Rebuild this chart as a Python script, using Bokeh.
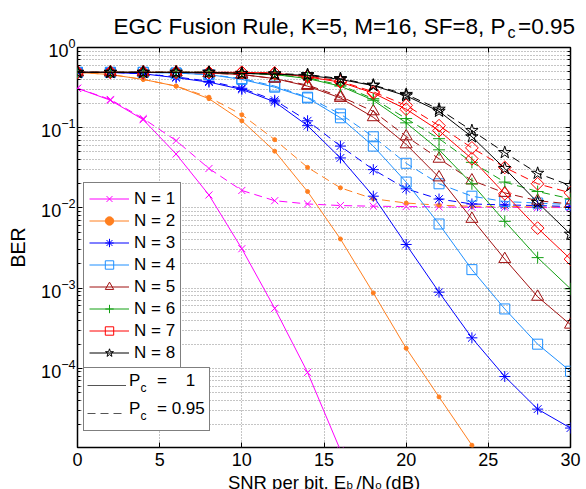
import math
from bokeh.plotting import figure
from bokeh.models import Range1d, LinearAxis, LogAxis, FixedTicker, Label, Legend, LegendItem
from bokeh.embed import file_html
from bokeh.resources import INLINE

# ---------------- data ----------------
snr_db = [0, 2, 4, 6, 8, 10, 12, 14, 16, 18, 20, 22, 24, 26, 28, 30]

ber_n1_pc1 = [0.31, 0.22, 0.126, 0.047, 0.0145, 0.0031, 5.6e-4, 8.9e-5, 9.5e-6]
ber_n1_pc095 = [0.31, 0.225, 0.13, 0.069, 0.031, 0.0165, 0.0123, 0.0112, 0.0107, 0.0105,
                0.0104, 0.0103, 0.0102, 0.0102, 0.0101, 0.0101]
ber_n2_pc1 = [0.49, 0.46, 0.40, 0.33, 0.23, 0.122, 0.051, 0.016, 0.0041, 8.7e-4, 1.78e-4,
              4.4e-5, 1.1e-5, 1.5e-6]
ber_n2_pc095 = [0.49, 0.46, 0.40, 0.33, 0.24, 0.145, 0.071, 0.032, 0.0178, 0.013, 0.0115,
                0.0108, 0.0105, 0.0104, 0.0103, 0.0103]
ber_n3_pc1 = [0.49, 0.49, 0.47, 0.42, 0.37, 0.30, 0.21, 0.106, 0.042, 0.014, 0.0035,
              8.9e-4, 2.4e-4, 7.9e-5, 3.1e-5, 1.8e-5]
ber_n3_pc095 = [0.49, 0.49, 0.47, 0.43, 0.38, 0.31, 0.22, 0.122, 0.059, 0.030, 0.0173,
                0.0129, 0.0112, 0.0109, 0.0107, 0.0104]
ber_n4_pc1 = [0.49, 0.49, 0.49, 0.48, 0.46, 0.40, 0.32, 0.235, 0.133, 0.059, 0.021,
              0.0063, 0.0017, 5.5e-4, 2.0e-4, 9.2e-5]
ber_n4_pc095 = [0.49, 0.49, 0.49, 0.48, 0.46, 0.41, 0.33, 0.24, 0.148, 0.077, 0.036,
                0.020, 0.014, 0.012, 0.0115, 0.011]
ber_n5_pc1 = [0.49, 0.49, 0.49, 0.49, 0.48, 0.46, 0.41, 0.33, 0.235, 0.135, 0.062,
              0.024, 0.0073, 0.0023, 7.8e-4, 3.5e-4]
ber_n5_pc095 = [0.49, 0.49, 0.49, 0.49, 0.48, 0.46, 0.41, 0.34, 0.245, 0.16, 0.078,
                0.041, 0.022, 0.0154, 0.0123, 0.0112]
ber_n6_pc1 = [0.49, 0.49, 0.49, 0.49, 0.49, 0.48, 0.46, 0.41, 0.33, 0.22, 0.115,
              0.053, 0.020, 0.0068, 0.0024, 9.8e-4]
ber_n6_pc095 = [0.49, 0.49, 0.49, 0.49, 0.49, 0.48, 0.46, 0.42, 0.34, 0.23, 0.13,
                0.073, 0.037, 0.021, 0.016, 0.013]
ber_n7_pc1 = [0.49, 0.49, 0.49, 0.49, 0.49, 0.49, 0.48, 0.43, 0.37, 0.27, 0.17,
              0.092, 0.041, 0.015, 0.0056, 0.0023]
ber_n7_pc095 = [0.49, 0.49, 0.49, 0.49, 0.49, 0.49, 0.48, 0.44, 0.38, 0.28, 0.19,
                0.106, 0.056, 0.032, 0.020, 0.0154]
ber_n8_pc1 = [0.49, 0.49, 0.49, 0.49, 0.49, 0.475, 0.465, 0.45, 0.40, 0.335, 0.25,
              0.16, 0.077, 0.031, 0.0117, 0.0047]
ber_n8_pc095 = [0.49, 0.49, 0.49, 0.49, 0.49, 0.475, 0.47, 0.46, 0.41, 0.34, 0.26,
                0.17, 0.092, 0.049, 0.027, 0.019]

NB = "\u00a0"
series_labels = ["N = 1", "N = 2", "N = 3", "N = 4", "N = 5", "N = 6", "N = 7", "N = 8"]
pc_symbols = ["P", "P"]
pc_subscripts = ["c", "c"]
pc_values = ["=" + NB * 4 + "1", "=" + NB + "0.95"]
title_text = "EGC Fusion Rule, K=5, M=16, SF=8, P" + NB * 2 + "=0.95"
xlabel_text = "SNR per bit, E" + NB * 2 + "/N" + NB * 2 + "(dB)"
xlabel_subs = "b" + NB * 7 + "o"
x_ticks = [0, 5, 10, 15, 20, 25, 30]
y_major = [1e-5, 1e-4, 1e-3, 1e-2, 1e-1, 1.0]

solid_sets = [ber_n1_pc1, ber_n2_pc1, ber_n3_pc1, ber_n4_pc1,
              ber_n5_pc1, ber_n6_pc1, ber_n7_pc1, ber_n8_pc1]
dashed_sets = [ber_n1_pc095, ber_n2_pc095, ber_n3_pc095, ber_n4_pc095,
               ber_n5_pc095, ber_n6_pc095, ber_n7_pc095, ber_n8_pc095]

# ---------------- styles ----------------
FONT = "Liberation Sans"
styles = [
    dict(color="#FF00FF", marker="x", size=10, angle=0.0, filled=False),
    dict(color="#FF7F1F", marker="circle", size=4, angle=0.0, filled=True),
    dict(color="#0000FF", marker="asterisk", size=11, angle=0.0, filled=False),
    dict(color="#1E8FFF", marker="square", size=10, angle=0.0, filled=False),
    dict(color="#A01010", marker="triangle", size=12, angle=0.0, filled=False),
    dict(color="#12A012", marker="cross", size=12, angle=0.0, filled=False),
    dict(color="#FF0000", marker="square", size=9, angle=math.pi / 4, filled=False),
    dict(color="#000000", marker="star", size=13, angle=0.0, filled=False),
]
DASH = "8 5"
NAN = float("nan")

W, H = 586, 489
p = figure(width=W, height=H, y_axis_type="log",
           x_range=Range1d(0, 30), y_range=Range1d(1.03e-5, 1),
           output_backend="svg", toolbar_location=None,
           min_border_left=77, min_border_right=16, min_border_top=47, min_border_bottom=42)
p.title = None
p.background_fill_color = "white"
p.border_fill_color = "white"
p.outline_line_color = "black"
p.outline_line_width = 1.5

y_minor = [m * 10.0 ** e for e in range(-5, 0) for m in range(2, 10)]


def style_axis(ax, ticker, show_labels, minor=False, standoff=5):
    ax.ticker = ticker
    ax.axis_line_color = None
    ax.major_tick_in = 5
    ax.major_tick_out = 0
    ax.major_tick_line_color = "black"
    ax.minor_tick_in = 3 if minor else 0
    ax.minor_tick_out = 0
    ax.minor_tick_line_color = "black" if minor else None
    if show_labels:
        ax.major_label_text_font = FONT
        ax.major_label_text_font_size = "18px"
        ax.major_label_text_color = "black"
        ax.major_label_standoff = standoff
    else:
        ax.major_label_text_font_size = "0px"
        ax.major_label_text_color = None
        ax.major_label_standoff = 0


style_axis(p.xaxis[0], FixedTicker(ticks=x_ticks), True, standoff=5)
style_axis(p.yaxis[0], FixedTicker(ticks=y_major, minor_ticks=y_minor), True, minor=True, standoff=2)
p.yaxis[0].axis_label = "BER"
p.yaxis[0].axis_label_text_font = FONT
p.yaxis[0].axis_label_text_font_size = "19.5px"
p.yaxis[0].axis_label_text_font_style = "normal"
p.yaxis[0].axis_label_text_color = "black"
p.yaxis[0].axis_label_standoff = 9

top_ax = LinearAxis()
style_axis(top_ax, FixedTicker(ticks=x_ticks), False)
p.add_layout(top_ax, "above")
right_ax = LogAxis()
style_axis(right_ax, FixedTicker(ticks=y_major, minor_ticks=y_minor), False, minor=True)
p.add_layout(right_ax, "right")

GRID = "#8a8a8a"
p.xgrid.ticker = FixedTicker(ticks=x_ticks)
p.xgrid.grid_line_color = GRID
p.xgrid.grid_line_dash = "1 2"
p.ygrid.ticker = FixedTicker(ticks=y_major, minor_ticks=y_minor)
p.ygrid.grid_line_color = GRID
p.ygrid.grid_line_dash = "1 2"
p.ygrid.minor_grid_line_color = GRID
p.ygrid.minor_grid_line_dash = "1 2"

legend_items = []
for i in range(8):
    st = styles[i]
    fill = st["color"] if st["filled"] else None
    rs = []
    for vals, dash in ((solid_sets[i], "solid"), (dashed_sets[i], DASH)):
        xs = snr_db[:len(vals)]
        lr = p.line(xs, vals, line_color=st["color"], line_width=1, line_dash=dash)
        sr = p.scatter(xs, vals, marker=st["marker"], size=st["size"], angle=st["angle"],
                       line_color=st["color"], fill_color=fill, line_width=1)
        rs.append((lr, sr))
    legend_items.append(LegendItem(label=series_labels[i], renderers=[rs[0][0], rs[0][1]]))

leg1 = Legend(items=legend_items, location=(6, 78), orientation="vertical",
              label_text_font=FONT, label_text_font_size="17px", label_text_color="black",
              glyph_width=40, glyph_height=21, label_height=21, label_width=41,
              spacing=1, padding=5, label_standoff=5, margin=0,
              border_line_color="black", border_line_width=1,
              background_fill_color="white", background_fill_alpha=1.0)
p.add_layout(leg1)

# line-style key (P_c): box with the two line samples (proxies without visible data)
g1 = p.line([NAN], [NAN], line_color="#555555", line_width=1)
g2 = p.line([NAN], [NAN], line_color="#555555", line_width=1, line_dash=DASH)
leg2 = Legend(items=[LegendItem(label=NB, renderers=[g1]),
                     LegendItem(label=NB, renderers=[g2])],
              location=(6, 16), orientation="vertical",
              label_text_font=FONT, label_text_font_size="17px", label_text_color="black",
              glyph_width=39, glyph_height=28, label_height=28, label_width=76,
              spacing=0, padding=3, label_standoff=4, margin=0,
              border_line_color="black", border_line_width=1,
              background_fill_color="white", background_fill_alpha=1.0)
p.add_layout(leg2)

# texts of the key: transparent legends drawn over the box (P, subscript c, value)
g0 = p.line([NAN], [NAN], line_alpha=0)


def text_legend(labels, size, loc):
    leg = Legend(items=[LegendItem(label=t, renderers=[g0]) for t in labels],
                 location=loc, orientation="vertical",
                 label_text_font=FONT, label_text_font_size=size, label_text_color="black",
                 glyph_width=1, glyph_height=28, label_height=28, label_width=8,
                 spacing=0, padding=0, label_standoff=0, margin=0,
                 border_line_color=None, background_fill_alpha=0.0)
    p.add_layout(leg)


text_legend(pc_symbols, "17px", (51, 23.9))
text_legend(pc_subscripts, "12px", (62.5, 17.2))
text_legend(pc_values, "17px", (79, 23.9))


def lbl(text, x, y, xo, yo, size, place, align="left", baseline="alphabetic"):
    p.add_layout(Label(x=x, y=y, x_offset=xo, y_offset=yo, text=text, text_font=FONT,
                       text_font_size=f"{size}px", text_align=align,
                       text_baseline=baseline, text_color="black"), place)


X0, YB, YT = 0, 1.03e-5, 1.0

# texts outside the frame live in the side panels (not clipped); spread to fit the borders
lbl(title_text, X0, YT, 36, 21, 22.5, "above")
lbl("c", X0, YT, 430, 15, 16, "right")
lbl(xlabel_text, X0, YB, 150.4, -34.5, 18.5, "above")
lbl(xlabel_subs, X0, YB, 269.1, -37, 11.5, "below")

open("out.html", "w").write(file_html(p, INLINE))
